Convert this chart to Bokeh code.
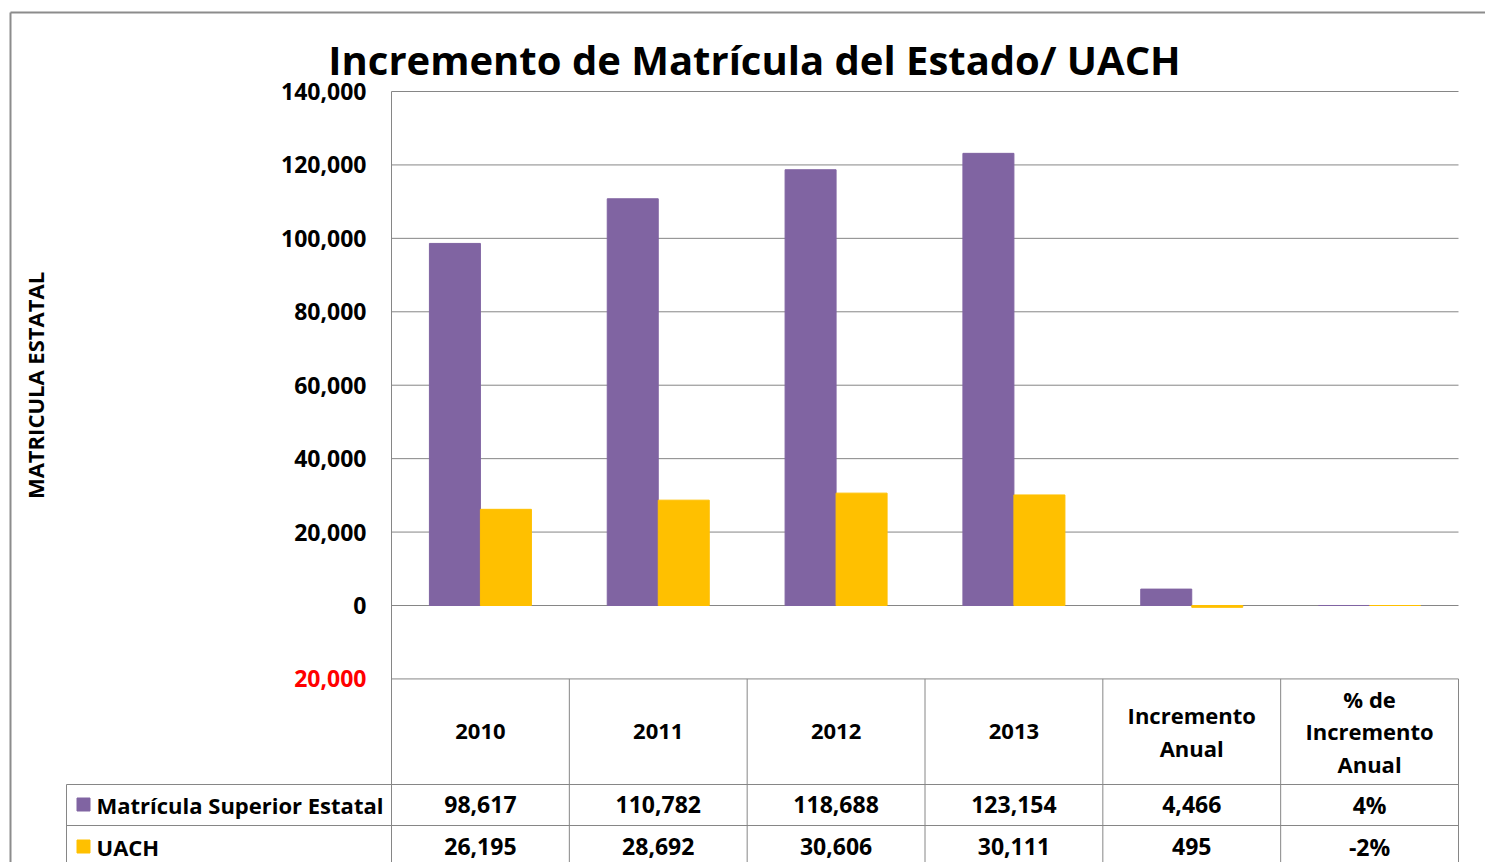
import math
from bokeh.plotting import figure
from bokeh.models import Range1d
from bokeh.core.properties import value
from bokeh.embed import file_html
from bokeh.resources import INLINE

# ---------------- data ----------------
title_text = "Incremento de Matrícula del Estado/ UACH"
y_axis_title = "MATRICULA ESTATAL"
categories = ["2010", "2011", "2012", "2013", "Incremento\nAnual", "% de\nIncremento\nAnual"]
series_names = ["Matrícula Superior Estatal", "UACH"]
matricula = [98617, 110782, 118688, 123154, 4466, 0.04]
uach = [26195, 28692, 30606, 30111, -495, -0.02]
y_ticks = [-20000, 0, 20000, 40000, 60000, 80000, 100000, 120000, 140000]
colors = ["#8064A2", "#FFC000"]

# ---------------- layout (pixels in figure space) ----------------
FW, FH = 1485, 862
PL, PR = 391, 1458          # plot area left/right
Y_TOP, Y_ZERO = 91, 605     # pixel of 140,000 and of 0
NCAT = len(categories)
CW = (PR - PL) / NCAT
PPU = (Y_ZERO - Y_TOP) / 140000.0

def px2x(fx):
    return (fx - PL) / CW

def py2y(fy):
    return (Y_ZERO - fy) / PPU

FONT = value("Open Sans")
GRID = "#868686"

p = figure(width=FW, height=FH, output_backend="svg", toolbar_location=None,
           x_range=Range1d(px2x(0), px2x(FW)), y_range=Range1d(py2y(FH), py2y(0)),
           min_border=0, outline_line_color=None)
p.xaxis.visible = False
p.yaxis.visible = False
p.xgrid.visible = False
p.ygrid.visible = False
p.background_fill_color = "white"
p.border_fill_color = "white"

# outer chart border
p.segment(x0=[px2x(10), px2x(10)], y0=[py2y(12), py2y(12)],
          x1=[px2x(FW), px2x(10)], y1=[py2y(12), py2y(FH)],
          line_color="#8c8c8c", line_width=2)

# gridlines
p.segment(x0=[0] * len(y_ticks), y0=y_ticks, x1=[NCAT] * len(y_ticks), y1=y_ticks,
          line_color=GRID, line_width=1)

# bars
bar_w = 51 / CW
off = 0.1434
xs = [i + 0.5 for i in range(NCAT)]
p.vbar(x=[x - off for x in xs], top=matricula, bottom=0, width=bar_w,
       fill_color=colors[0], line_color=colors[0], line_width=1)
p.vbar(x=[x + off for x in xs], top=uach, bottom=0, width=bar_w,
       fill_color=colors[1], line_color=colors[1], line_width=1)

# y tick labels (negative shown red without sign, Excel style)
def fmt_num(v):
    return f"{abs(v):,.0f}"

p.text(x=[px2x(366)] * len(y_ticks), y=y_ticks,
       text=[fmt_num(v) for v in y_ticks],
       text_color=["#FF0000" if v < 0 else "black" for v in y_ticks],
       text_font=FONT, text_font_style="bold", text_font_size="23px",
       text_align="right", text_baseline="middle")

# ---------------- data table ----------------
row_top = 678.4
row1 = 784
row2 = 825
leg_left = 66
bottom_y = py2y(FH)

# vertical lines
vx0 = [0] + list(range(1, NCAT + 1))
vy0 = [y_ticks[-1]] + [y_ticks[0]] * NCAT
p.segment(x0=vx0, y0=vy0, x1=vx0, y1=[bottom_y] * len(vx0), line_color=GRID, line_width=1)
p.segment(x0=[px2x(leg_left)], y0=[py2y(row1)], x1=[px2x(leg_left)], y1=[bottom_y],
          line_color=GRID, line_width=1)
# horizontal lines
p.segment(x0=[px2x(leg_left)] * 2, y0=[py2y(row1), py2y(row2)],
          x1=[NCAT] * 2, y1=[py2y(row1), py2y(row2)], line_color=GRID, line_width=1)

# header texts
p.text(x=xs, y=[py2y(731)] * NCAT, text=categories,
       text_font=FONT, text_font_style="bold", text_font_size="22px",
       text_align="center", text_baseline="middle", text_line_height=1.07)

def fmt_cell(v, i):
    if i == NCAT - 1:
        return f"{v:.0%}"
    return fmt_num(v)

rows_y = [py2y(804), py2y(846)]
for s, vals in enumerate([matricula, uach]):
    p.text(x=xs, y=[rows_y[s]] * NCAT, text=[fmt_cell(v, i) for i, v in enumerate(vals)],
           text_font=FONT, text_font_style="bold", text_font_size="23px",
           text_align="center", text_baseline="middle")

# legend keys inside table
p.scatter(x=[px2x(83)] * 2, y=rows_y, marker="square", size=13,
          fill_color=colors, line_color=colors)
p.text(x=[px2x(96)] * 2, y=rows_y, text=series_names,
       text_font=FONT, text_font_style="bold", text_font_size="22px",
       text_align="left", text_baseline="middle")

# title
p.text(x=[px2x(754)], y=[py2y(59)], text=[title_text],
       text_font=FONT, text_font_style="bold", text_font_size="40px",
       text_align="center", text_baseline="alphabetic")

# y axis title
p.text(x=[px2x(34)], y=[py2y(385)], text=[y_axis_title], angle=math.pi / 2,
       text_font=FONT, text_font_style="bold", text_font_size="22px",
       text_align="center", text_baseline="middle")

open("out.html", "w").write(file_html(p, INLINE))
